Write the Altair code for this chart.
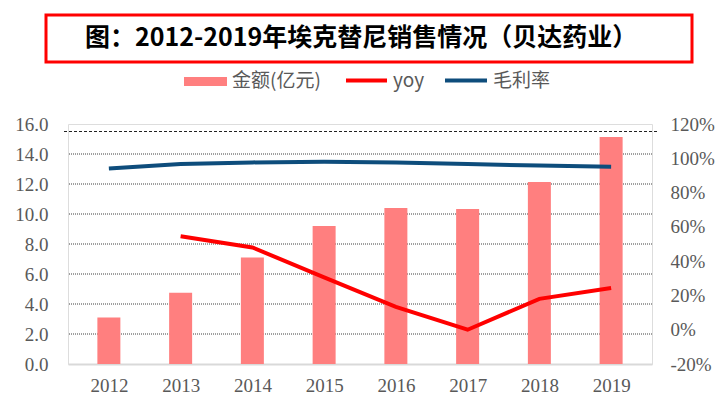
import altair as alt
import pandas as pd

years = [2012, 2013, 2014, 2015, 2016, 2017, 2018, 2019]
sales = [3.1, 4.75, 7.1, 9.2, 10.4, 10.33, 12.13, 15.13]          # 金额(亿元)
yoy = [None, 0.545, 0.48, 0.305, 0.133, 0.0, 0.18, 0.243]          # yoy
margin = [0.94, 0.966, 0.976, 0.98, 0.976, 0.966, 0.958, 0.95]     # 毛利率
left_ticks = [0, 2, 4, 6, 8, 10, 12, 14, 16]
grid_values = [2, 4, 6, 8, 10, 12, 14]
top_line = [15.5]
right_ticks = [-0.2, 0, 0.2, 0.4, 0.6, 0.8, 1.0, 1.2]
title_text = "图：2012-2019年埃克替尼销售情况（贝达药业）"
legend_labels = ["金额(亿元)", "yoy", "毛利率"]

BAR = "#FF7F7F"
RED = "#FF0000"
NAVY = "#0E4D7C"
GRAY = "#595959"
SERIF = "Liberation Serif"
CJK = "Noto Sans CJK SC"

df = pd.DataFrame({"year": years, "sales": sales})
lines_df = pd.DataFrame({
    "year": years * 2,
    "series": [legend_labels[1]] * len(years) + [legend_labels[2]] * len(years),
    "value": yoy + margin,
})

xscale = alt.Scale(domain=[years[0] - 0.5, years[-1] + 0.5], nice=False, zero=False)
xaxis = alt.Axis(values=years, format="d", labelFont=SERIF, labelFontSize=19,
                 labelColor=GRAY, labelAngle=0, ticks=False, domainColor="#D9D9D9",
                 domainWidth=2, labelPadding=12, grid=False, labelFlush=False)

lscale = alt.Scale(domain=[0, 16], nice=False, zero=True)
laxis = alt.Axis(values=left_ticks, format=".1f", labelFont=SERIF,
                 labelFontSize=19, labelColor=GRAY, ticks=False,
                 domain=False, grid=False, labelPadding=20)

grid = alt.Chart(pd.DataFrame({"g": grid_values})).mark_rule(
    color="#404040", strokeDash=[1, 1], strokeWidth=1
).encode(y=alt.Y("g:Q", scale=lscale, axis=laxis, title=None))

dashed = alt.Chart(pd.DataFrame({"t": top_line})).mark_rule(
    color="#222222", strokeDash=[3, 2], strokeWidth=1
).encode(y=alt.Y("t:Q", scale=lscale, axis=laxis, title=None),
         x=alt.value(-4), x2=alt.value(589))

bars = alt.Chart(df).mark_bar(color=BAR, size=23).encode(
    x=alt.X("year:Q", title=None, scale=xscale, axis=xaxis),
    y=alt.Y("sales:Q", scale=lscale, title=None, axis=laxis),
)

left = alt.layer(grid, dashed, bars)

lines = alt.Chart(lines_df).mark_line(strokeWidth=4).encode(
    x=alt.X("year:Q", title=None, scale=xscale, axis=xaxis),
    y=alt.Y("value:Q", title=None,
            scale=alt.Scale(domain=[-0.2, 1.2], nice=False, zero=False),
            axis=alt.Axis(orient="right", values=right_ticks,
                          labelExpr="round(datum.value*100) + '%'",
                          labelFont=SERIF, labelFontSize=19, labelColor=GRAY,
                          ticks=False, domain=False, grid=False, labelPadding=18)),
    color=alt.Color("series:N", legend=None,
                    scale=alt.Scale(domain=legend_labels[1:], range=[RED, NAVY])),
)

one = pd.DataFrame({"a": [0]})

title_box = alt.Chart(one).mark_rect(fill="white", stroke=RED, strokeWidth=3).encode(
    x=alt.value(-22), x2=alt.value(624), y=alt.value(-109), y2=alt.value(-62))
title = alt.Chart(one).mark_text(font=CJK, fontSize=25, fontWeight="bold",
                                 color="black", align="center", baseline="middle").encode(
    x=alt.value(293), y=alt.value(-86), text=alt.value(title_text))

leg_bar = alt.Chart(one).mark_rect(color=BAR).encode(
    x=alt.value(116), x2=alt.value(159), y=alt.value(-47), y2=alt.value(-38))
leg_red = alt.Chart(one).mark_rule(color=RED, strokeWidth=4).encode(
    x=alt.value(278), x2=alt.value(319), y=alt.value(-43.5))
leg_navy = alt.Chart(one).mark_rule(color=NAVY, strokeWidth=4).encode(
    x=alt.value(377), x2=alt.value(419), y=alt.value(-43.5))

def leg_text(label, xpos):
    return alt.Chart(one).mark_text(font=CJK, fontSize=19, color=GRAY,
                                    align="left", baseline="middle").encode(
        x=alt.value(xpos), y=alt.value(-43), text=alt.value(label))

chart = alt.layer(
    left, lines,
    title_box, title, leg_bar, leg_red, leg_navy,
    leg_text(legend_labels[0], 164), leg_text(legend_labels[1], 325),
    leg_text(legend_labels[2], 425),
).resolve_scale(y="independent").properties(
    width=584, height=240,
    autosize=alt.AutoSizeParams(type="none"),
    padding={"left": 60, "top": 116, "right": 68, "bottom": 30},
).configure_view(stroke=None).configure_axis(grid=False).configure_axisX(
    grid=False
).configure_axisQuantitative(grid=False).configure(background="white")

chart.save("out.html", embed_options={"renderer": "svg", "actions": False})
